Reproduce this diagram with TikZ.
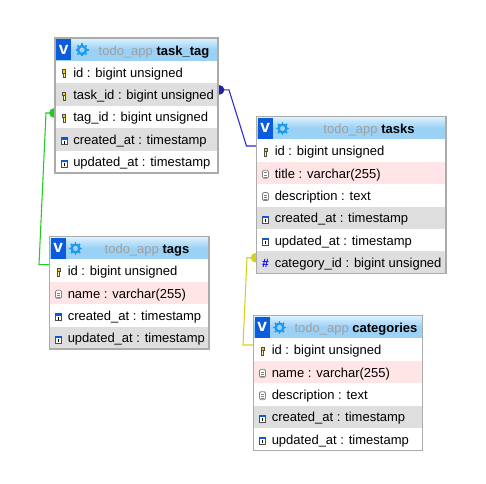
\documentclass[tikz,border=0pt]{standalone}
\usepackage{fontspec}
\setmainfont{Liberation Sans}
\usetikzlibrary{backgrounds,fit}
\definecolor{framegray}{HTML}{ABABAB}
\definecolor{shaderow}{HTML}{DEDEDE}
\definecolor{pinkrow}{HTML}{FFE5E5}
\definecolor{headtop}{HTML}{DDF2FF}
\definecolor{headbot}{HTML}{9BD1F5}
\definecolor{badgeblue}{HTML}{0A5CDC}
\definecolor{gearblue}{HTML}{1E9BEE}
\definecolor{dbgray}{HTML}{A0A0A0}
\definecolor{relblue}{HTML}{2A2AD0}
\definecolor{relgreen}{HTML}{1FCC1F}
\definecolor{relyellow}{HTML}{D2D21E}
\tikzset{
  row/.style={minimum width=#1*.75pt, minimum height=22.4*.75pt, anchor=north west, inner sep=0pt, outer sep=0pt},
  rowtext/.style={anchor=west, inner sep=0pt, text height=9pt, text depth=1.5pt, font=\fontsize{9.75pt}{11pt}\selectfont},
  head/.style={row=#1, minimum height=23*.75pt, top color=headtop, bottom color=headbot, middle color=headbot},
  badge/.style={anchor=north west, minimum width=15*.75pt, minimum height=21*.75pt, inner sep=0pt, fill=badgeblue, text=white, font=\fontsize{13pt}{13pt}\bfseries\selectfont},
  title/.style={inner sep=0pt, text height=10pt, text depth=2pt, font=\fontsize{9.75pt}{11pt}\selectfont},
  frame/.style={draw=framegray, line width=.9pt, inner sep=0pt},
  rel/.style={line width=.8pt, #1},
  blob/.style={circle, fill=#1, inner sep=0pt, minimum size=9.5*.75pt},
  hashmark/.style={inner sep=0pt, text=blue, font=\fontsize{9pt}{10pt}\bfseries\selectfont},
  pics/icon key/.style={code={
    \draw[black!70, fill=yellow!70!orange, line width=.4pt] (-1.7,-4) rectangle (1.7,-.5);
    \draw[black!70, fill=yellow!40!white, line width=.4pt] (-1,-.5) rectangle (1,4);
  }},
  pics/icon doc/.style={code={
    \draw[gray, fill=white, line width=.6pt, rounded corners=1pt] (-3,-4) rectangle (3,4);
    \foreach \t in {-1.5,1,3}
      \draw[gray, line width=.4pt] (-1.7,\t) -- (1.7,\t);
  }},
  pics/icon date/.style={code={
    \draw[black!70, fill=white, line width=.5pt] (-3,-3) rectangle (3,4);
    \fill[badgeblue] (-3,-3) rectangle (3,-1);
    \draw[black, line width=.6pt] (0,0) -- (0,3);
  }},
  pics/icon hash/.style={code={
    \node[hashmark] at (0,0) {\#};
  }},
  pics/gear/.style={code={
    \draw[gearblue, line width=1.8pt] (0,0) circle (4);
    \foreach \a in {0,45,...,315}
      \draw[gearblue, line width=1.1pt] (\a:4.5) -- (\a:6.5);
  }}
}
\begin{document}
\begin{tikzpicture}[x=.75pt, y=-.75pt]
  \useasboundingbox (0,0) rectangle (486,484);

  % task_tag
  \node [head=163] (task_tag-head) at (55,38) {};
  \node [badge] (task_tag-v) at (56,39) {v};
  \pic at (82,50) {gear};
  \node [title] (task_tag-title) at (154,50) {\textcolor{dbgray}{todo\_app} \textbf{task\_tag}};
  \foreach \k/\l/\c [count=\y] in {key/id : bigint unsigned/white,
      key/task\_id : bigint unsigned/shaderow,
      key/tag\_id : bigint unsigned/white,
      date/created\_at : timestamp/shaderow,
      date/updated\_at : timestamp/white} {
    \node [row=163, fill=\c] (task_tag-\y) at (55,61+22.4*\y-22.4) {};
    \node [rowtext] (task_tag-text-\y) at ([xshift=18*.75pt]task_tag-\y.west) {\l};
    \pic at ([xshift=9*.75pt, yshift=-1.2*.75pt]task_tag-\y.west) {icon \k};
  }
  \node [frame, fit=(task_tag-head)(task_tag-5)] (task_tag) {};

  % tags
  \node [head=159.5] (tags-head) at (49.5,236.5) {};
  \node [badge] (tags-v) at (50.5,237.5) {v};
  \pic at (75.5,248.5) {gear};
  \node [title] (tags-title) at (147,248.5) {\textcolor{dbgray}{todo\_app} \textbf{tags}};
  \foreach \k/\l/\c [count=\y] in {key/id : bigint unsigned/white,
      doc/name : varchar(255)/pinkrow,
      date/created\_at : timestamp/white,
      date/updated\_at : timestamp/shaderow} {
    \node [row=159.5, fill=\c] (tags-\y) at (49.5,259.5+22.4*\y-22.4) {};
    \node [rowtext] (tags-text-\y) at ([xshift=18*.75pt]tags-\y.west) {\l};
    \pic at ([xshift=9*.75pt, yshift=-1.2*.75pt]tags-\y.west) {icon \k};
  }
  \node [frame, fit=(tags-head)(tags-4)] (tags) {};

  % tasks
  \node [head=189.5] (tasks-head) at (256.5,116.5) {};
  \node [badge] (tasks-v) at (257.5,117.5) {v};
  \pic at (282.5,128.5) {gear};
  \node [title] (tasks-title) at (369,128.5) {\textcolor{dbgray}{todo\_app} \textbf{tasks}};
  \foreach \k/\l/\c [count=\y] in {key/id : bigint unsigned/white,
      doc/title : varchar(255)/pinkrow,
      doc/description : text/white,
      date/created\_at : timestamp/shaderow,
      date/updated\_at : timestamp/white,
      hash/category\_id : bigint unsigned/shaderow} {
    \node [row=189.5, fill=\c] (tasks-\y) at (256.5,139.5+22.35*\y-22.35) {};
    \node [rowtext] (tasks-text-\y) at ([xshift=18*.75pt]tasks-\y.west) {\l};
    \pic at ([xshift=9*.75pt, yshift=-1.2*.75pt]tasks-\y.west) {icon \k};
  }
  \node [frame, fit=(tasks-head)(tasks-6)] (tasks) {};

  % categories
  \node [head=169] (categories-head) at (253.5,315.5) {};
  \node [badge] (categories-v) at (254.5,316.5) {v};
  \pic at (279.5,327.5) {gear};
  \node [title] (categories-title) at (356,327.5) {\textcolor{dbgray}{todo\_app} \textbf{categories}};
  \foreach \k/\l/\c [count=\y] in {key/id : bigint unsigned/white,
      doc/name : varchar(255)/pinkrow,
      doc/description : text/white,
      date/created\_at : timestamp/shaderow,
      date/updated\_at : timestamp/white} {
    \node [row=169, fill=\c] (categories-\y) at (253.5,338.5+22.4*\y-22.4) {};
    \node [rowtext] (categories-text-\y) at ([xshift=18*.75pt]categories-\y.west) {\l};
    \pic at ([xshift=9*.75pt, yshift=-1.2*.75pt]categories-\y.west) {icon \k};
  }
  \node [frame, fit=(categories-head)(categories-5)] (categories) {};

  \begin{scope}[on background layer]
    \draw [rel=relblue] ([yshift=3.5pt]task_tag-2.east) node [blob=relblue!80!black, xshift=1.2pt] (blue-blob) {}
      -- ++(11,0) -- ([xshift=-10*.75pt, yshift=3.5pt]tasks-1.west) -- ([yshift=3.5pt]tasks-1.west);
    \draw [rel=relgreen] ([yshift=3pt]task_tag-3.west) node [blob=relgreen, xshift=-.8pt] (green-blob) {}
      -- ++(-9,0) -- ([xshift=-10.5*.75pt, yshift=4.5pt]tags-1.west) -- ([yshift=4.5pt]tags-1.west);
    \draw [rel=relyellow] ([yshift=3.5pt]tasks-6.west) node [blob=relyellow, xshift=-.8pt] (yellow-blob) {}
      -- ++(-9.5,0) -- ([xshift=-10.5*.75pt, yshift=3.5pt]categories-1.west) -- ([yshift=3.5pt]categories-1.west);
  \end{scope}
\end{tikzpicture}
\end{document}
